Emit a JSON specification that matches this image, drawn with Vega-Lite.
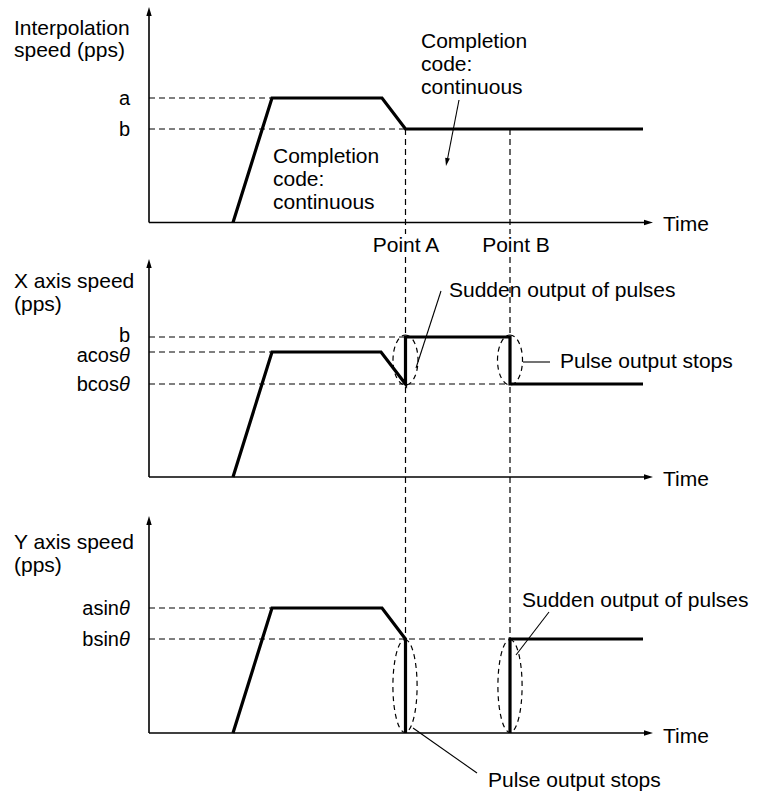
{
  "$schema": "https://vega.github.io/schema/vega-lite/v6.json",
  "width": 757,
  "height": 792,
  "padding": 0,
  "autosize": {"type": "none"},
  "background": "white",
  "config": {
    "view": {"stroke": null},
    "text": {"font": "Liberation Sans", "fontSize": 21, "color": "black"}
  },
  "datasets": {
    "paths": [
      {"g": "p1", "o": 1, "x": 233, "y": 222.5},
      {"g": "p1", "o": 2, "x": 272, "y": 98},
      {"g": "p1", "o": 3, "x": 382, "y": 98},
      {"g": "p1", "o": 4, "x": 405.5, "y": 129},
      {"g": "p1", "o": 5, "x": 643, "y": 129},
      {"g": "p2", "o": 1, "x": 233, "y": 477},
      {"g": "p2", "o": 2, "x": 272, "y": 352},
      {"g": "p2", "o": 3, "x": 381, "y": 352},
      {"g": "p2", "o": 4, "x": 405.5, "y": 384},
      {"g": "p2", "o": 5, "x": 405.5, "y": 337},
      {"g": "p2", "o": 6, "x": 510, "y": 337},
      {"g": "p2", "o": 7, "x": 510, "y": 384},
      {"g": "p2", "o": 8, "x": 643, "y": 384},
      {"g": "p3a", "o": 1, "x": 233, "y": 733},
      {"g": "p3a", "o": 2, "x": 272, "y": 608},
      {"g": "p3a", "o": 3, "x": 382, "y": 608},
      {"g": "p3a", "o": 4, "x": 405.5, "y": 639},
      {"g": "p3a", "o": 5, "x": 405.5, "y": 733},
      {"g": "p3b", "o": 1, "x": 510, "y": 733},
      {"g": "p3b", "o": 2, "x": 510, "y": 639},
      {"g": "p3b", "o": 3, "x": 643, "y": 639}
    ],
    "guides": [
      {"x": 149, "y": 98, "x2": 272, "y2": 98},
      {"x": 149, "y": 129, "x2": 405.5, "y2": 129},
      {"x": 149, "y": 337, "x2": 405.5, "y2": 337},
      {"x": 149, "y": 352, "x2": 272, "y2": 352},
      {"x": 149, "y": 384, "x2": 510, "y2": 384},
      {"x": 149, "y": 608, "x2": 272, "y2": 608},
      {"x": 149, "y": 639, "x2": 510, "y2": 639},
      {"x": 405.5, "y": 129, "x2": 405.5, "y2": 234},
      {"x": 405.5, "y": 257, "x2": 405.5, "y2": 733},
      {"x": 510, "y": 129, "x2": 510, "y2": 234},
      {"x": 510, "y": 257, "x2": 510, "y2": 733}
    ],
    "axes": [
      {"x": 149, "y": 12, "x2": 149, "y2": 222.5},
      {"x": 149, "y": 222.5, "x2": 647, "y2": 222.5},
      {"x": 149, "y": 264, "x2": 149, "y2": 477},
      {"x": 149, "y": 477, "x2": 647, "y2": 477},
      {"x": 149, "y": 521, "x2": 149, "y2": 733},
      {"x": 149, "y": 733, "x2": 647, "y2": 733}
    ],
    "upTips": [
      {"x": 149, "y": 7},
      {"x": 149, "y": 259},
      {"x": 149, "y": 516}
    ],
    "rightTips": [
      {"x": 653, "y": 222.5},
      {"x": 653, "y": 477},
      {"x": 653, "y": 733}
    ],
    "leaders": [
      {"x": 459, "y": 100, "x2": 447.5, "y2": 159},
      {"x": 441, "y": 291, "x2": 416, "y2": 368},
      {"x": 523, "y": 362, "x2": 550, "y2": 362},
      {"x": 549, "y": 612, "x2": 516, "y2": 655},
      {"x": 413, "y": 728, "x2": 477, "y2": 773}
    ],
    "downTips": [
      {"x": 446, "y": 166}
    ],
    "ellipsesShort": [
      {"x": 405.5, "y": 360},
      {"x": 510, "y": 360}
    ],
    "ellipsesTall": [
      {"x": 405, "y": 686},
      {"x": 510, "y": 686}
    ],
    "textLeft": [
      {"x": 14, "y": 35, "t": "Interpolation"},
      {"x": 14, "y": 57, "t": "speed (pps)"},
      {"x": 14, "y": 288, "t": "X axis speed"},
      {"x": 14, "y": 311, "t": "(pps)"},
      {"x": 14, "y": 549, "t": "Y axis speed"},
      {"x": 14, "y": 572, "t": "(pps)"},
      {"x": 421, "y": 48, "t": "Completion"},
      {"x": 421, "y": 71, "t": "code:"},
      {"x": 421, "y": 94, "t": "continuous"},
      {"x": 273, "y": 163, "t": "Completion"},
      {"x": 273, "y": 186, "t": "code:"},
      {"x": 273, "y": 209, "t": "continuous"},
      {"x": 663, "y": 231, "t": "Time"},
      {"x": 663, "y": 486, "t": "Time"},
      {"x": 663, "y": 743, "t": "Time"},
      {"x": 449, "y": 297, "t": "Sudden output of pulses"},
      {"x": 522, "y": 607, "t": "Sudden output of pulses"},
      {"x": 560, "y": 368, "t": "Pulse output stops"},
      {"x": 488, "y": 787, "t": "Pulse output stops"}
    ],
    "levels": [
      {"x": 130, "y": 105, "t": "a"},
      {"x": 130, "y": 136, "t": "b"},
      {"x": 130, "y": 342, "t": "b"},
      {"x": 119, "y": 362, "t": "acos"},
      {"x": 119, "y": 391, "t": "bcos"},
      {"x": 119, "y": 615, "t": "asin"},
      {"x": 119, "y": 646, "t": "bsin"}
    ],
    "thetas": [
      {"x": 119, "y": 362, "t": "θ"},
      {"x": 119, "y": 391, "t": "θ"},
      {"x": 119, "y": 615, "t": "θ"},
      {"x": 119, "y": 646, "t": "θ"}
    ],
    "points": [
      {"x": 406, "y": 252, "t": "Point A"},
      {"x": 516, "y": 252, "t": "Point B"}
    ]
  },
  "encoding": {
    "x": {"field": "x", "type": "quantitative", "scale": {"domain": [0, 757], "nice": false, "zero": false}, "axis": null},
    "y": {"field": "y", "type": "quantitative", "scale": {"domain": [0, 792], "reverse": true, "nice": false, "zero": false}, "axis": null}
  },
  "layer": [
    {
      "data": {"name": "guides"},
      "mark": {"type": "rule", "color": "black", "strokeWidth": 1.2, "strokeDash": [6, 4]},
      "encoding": {"x2": {"field": "x2"}, "y2": {"field": "y2"}}
    },
    {
      "data": {"name": "axes"},
      "mark": {"type": "rule", "color": "black", "strokeWidth": 1.6},
      "encoding": {"x2": {"field": "x2"}, "y2": {"field": "y2"}}
    },
    {
      "data": {"name": "leaders"},
      "mark": {"type": "rule", "color": "black", "strokeWidth": 1.1},
      "encoding": {"x2": {"field": "x2"}, "y2": {"field": "y2"}}
    },
    {
      "data": {"name": "upTips"},
      "mark": {"type": "point", "shape": "M0,0L-0.3,1L0.3,1Z", "size": 324, "filled": true, "color": "black", "opacity": 1}
    },
    {
      "data": {"name": "rightTips"},
      "mark": {"type": "point", "shape": "M0,0L-1,-0.3L-1,0.3Z", "size": 324, "filled": true, "color": "black", "opacity": 1}
    },
    {
      "data": {"name": "downTips"},
      "mark": {"type": "point", "shape": "M0,0L-0.3,-1L0.3,-1Z", "size": 256, "angle": 11, "filled": true, "color": "black", "opacity": 1}
    },
    {
      "data": {"name": "ellipsesShort"},
      "mark": {"type": "point", "shape": "M0,-1A0.5,1,0,1,1,0,1A0.5,1,0,1,1,0,-1Z", "size": 2500, "filled": false, "stroke": "black", "strokeWidth": 1.2, "strokeDash": [5, 4], "opacity": 1}
    },
    {
      "data": {"name": "ellipsesTall"},
      "mark": {"type": "point", "shape": "M0,-1A0.26,1,0,1,1,0,1A0.26,1,0,1,1,0,-1Z", "size": 8649, "filled": false, "stroke": "black", "strokeWidth": 1.2, "strokeDash": [5, 4], "opacity": 1}
    },
    {
      "data": {"name": "paths"},
      "mark": {"type": "line", "color": "black", "strokeWidth": 3.2, "strokeJoin": "miter", "strokeCap": "butt"},
      "encoding": {"detail": {"field": "g"}, "order": {"field": "o", "type": "quantitative"}}
    },
    {
      "data": {"name": "textLeft"},
      "mark": {"type": "text", "align": "left", "baseline": "alphabetic"},
      "encoding": {"text": {"field": "t"}}
    },
    {
      "data": {"name": "levels"},
      "mark": {"type": "text", "align": "right", "baseline": "alphabetic", "fontSize": 20},
      "encoding": {"text": {"field": "t"}}
    },
    {
      "data": {"name": "thetas"},
      "mark": {"type": "text", "align": "left", "baseline": "alphabetic", "fontStyle": "italic", "fontSize": 20},
      "encoding": {"text": {"field": "t"}}
    },
    {
      "data": {"name": "points"},
      "mark": {"type": "text", "align": "center", "baseline": "alphabetic"},
      "encoding": {"text": {"field": "t"}}
    }
  ]
}
